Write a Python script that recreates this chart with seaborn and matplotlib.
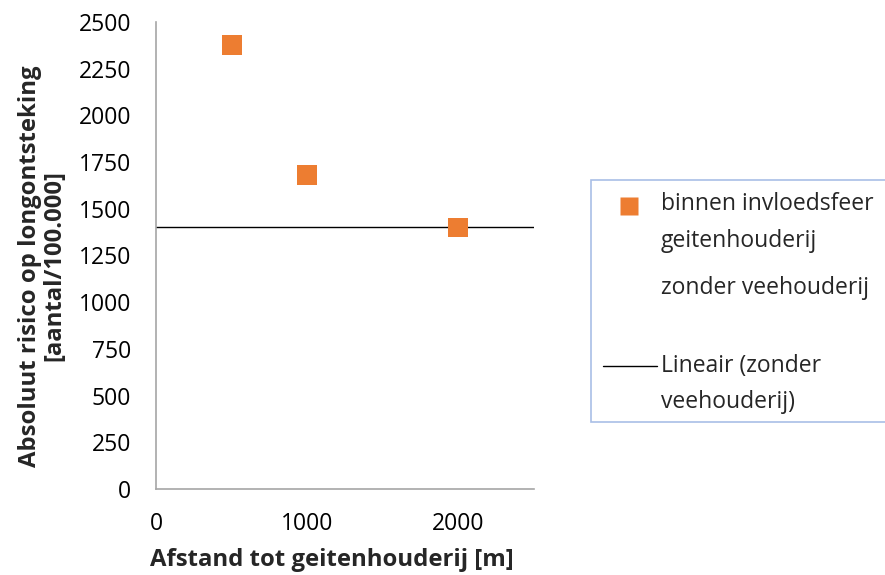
import matplotlib
matplotlib.use("Agg")
import matplotlib.pyplot as plt
import seaborn as sns
import pandas as pd
from matplotlib.patches import Rectangle
from matplotlib.lines import Line2D

# Data
afstand = [500, 1000, 2000]
risico = [2375, 1680, 1400]
trend_x = [0, 2500]
trend_y = [1400, 1400]
x_ticks = [0, 1000, 2000]
y_ticks = [0, 250, 500, 750, 1000, 1250, 1500, 1750, 2000, 2250, 2500]
series_labels = ["binnen invloedsfeer\ngeitenhouderij", "zonder veehouderij", "Lineair (zonder\nveehouderij)"]

sns.set_style("white")
plt.rcParams['font.family'] = ['Open Sans', 'DejaVu Sans']

FS = 16.5
FL = 17.2
fig = plt.figure(figsize=(8.85, 5.75), dpi=100)
ax = fig.add_axes([156/885, 1-489/575, (534-156)/885, (489-22)/575])

df = pd.DataFrame({"x": afstand, "y": risico})
sns.scatterplot(data=df, x="x", y="y", marker="s", s=205, color="#ED7D31",
                edgecolor="none", ax=ax, zorder=3)
dft = pd.DataFrame({"x": trend_x, "y": trend_y})
sns.lineplot(data=dft, x="x", y="y", color="black", linewidth=1.0, ax=ax, zorder=2)

ax.set_xlim(0, 2500)
ax.set_ylim(0, 2500)
ax.set_xticks(x_ticks)
ax.set_yticks(y_ticks)
ax.set_xticklabels([str(v) for v in x_ticks])
ax.set_yticklabels([str(v) for v in y_ticks])
gray = "#A6A6A6"
for s in ["top", "right"]:
    ax.spines[s].set_visible(False)
for s in ["left", "bottom"]:
    ax.spines[s].set_color(gray)
    ax.spines[s].set_linewidth(1.2)
ax.tick_params(axis="both", which="both", direction="out", length=6.5, width=1.2,
               color=gray, labelsize=FS, labelcolor="black", pad=11.5)
ax.tick_params(axis="x", pad=10)

ax.set_xlabel("Afstand tot geitenhouderij [m]", fontsize=FL, fontweight="bold", labelpad=9)
ax.set_ylabel("Absoluut risico op longontsteking\n[aantal/100.000]", fontsize=FL,
              fontweight="bold", labelpad=9, linespacing=1.02)
ax.xaxis.label.set_x(0.466)
ax.yaxis.label.set_y(0.4775)

# Legend box (custom)
W, H = 885, 575
def fx(px): return px / W
def fy(py): return 1 - py / H
rect = Rectangle((fx(591), fy(422)), fx(900) - fx(591), fy(180) - fy(422),
                 transform=fig.transFigure, facecolor="white", edgecolor="#A9BFE6",
                 linewidth=1.2, clip_on=False)
fig.add_artist(rect)
fig.add_artist(Line2D([fx(628.5)], [fy(206)], transform=fig.transFigure, marker="s",
                      markersize=12.3, color="#ED7D31", markeredgecolor="none", linestyle="none"))
fig.add_artist(Line2D([fx(603), fx(657)], [fy(366), fy(366)], transform=fig.transFigure,
                      color="black", linewidth=1.0))

line_centers = [[204, 241], [288], [366, 402]]
for label, centers in zip(series_labels, line_centers):
    for part, cy in zip(label.split("\n"), centers):
        fig.text(fx(661), fy(cy), part, fontsize=FS, va="center", ha="left")

fig.savefig("out.png", dpi=100)
